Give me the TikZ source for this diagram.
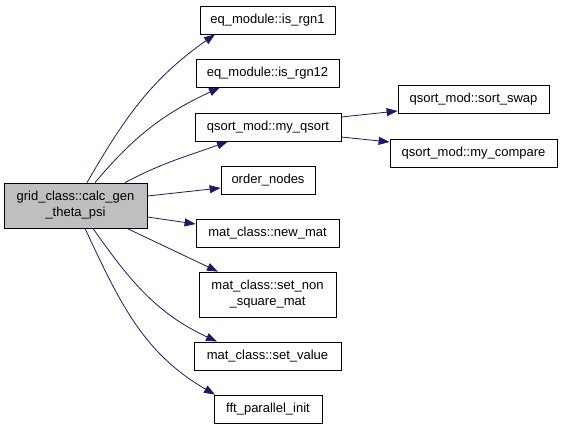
\documentclass[tikz,border=0pt]{standalone}
\usepackage{fontspec}
\setmainfont{Liberation Sans}
\usetikzlibrary{arrows.meta}
\definecolor{midnight}{HTML}{191970}
\begin{document}
\begin{tikzpicture}[x=1pt, y=-1pt,
            fn/.style={rectangle, draw=black, line width=0.8pt, minimum height=28pt, inner sep=0pt, align=center, font=\fontsize{13}{16}\selectfont},
            root/.style={fn, fill=black!25, minimum width=143pt, minimum height=45pt},
            call/.style={draw=midnight, line width=0.8pt, -{Triangle[length=11pt,width=8pt]}},
        ]
            \useasboundingbox (0,0) rectangle (563,429);
            \node(gridnode) at (75.5,205.5) [root] {grid\_class::calc\_gen\\\_theta\_psi};
            \node(rgnonenode) at (267.5,20) [fn, minimum width=135pt] {eq\_module::is\_rgn1};
            \node(rgntwelvenode) at (267.5,73) [fn, minimum width=143pt] {eq\_module::is\_rgn12};
            \node(qsortnode) at (268,127) [fn, minimum width=146pt] {qsort\_mod::my\_qsort};
            \node(ordernode) at (268,180) [fn, minimum width=94pt] {order\_nodes};
            \node(newmatnode) at (267.5,233) [fn, minimum width=143pt] {mat\_class::new\_mat};
            \node(nonsqnode) at (267.5,294.5) [fn, minimum width=137pt, minimum height=45pt] {mat\_class::set\_non\\\_square\_mat};
            \node(setvalnode) at (267.5,356) [fn, minimum width=147pt] {mat\_class::set\_value};
            \node(fftnode) at (268,409) [fn, minimum width=108pt] {fft\_parallel\_init};
            \node(swapnode) at (473.5,99) [fn, minimum width=151pt] {qsort\_mod::sort\_swap};
            \node(comparenode) at (473.5,153) [fn, minimum width=167pt] {qsort\_mod::my\_compare};
            \draw[call] ([xshift=11.5]gridnode.north) to[out=60, in=215] ([xshift=-52.5]rgnonenode.south);
            \draw[call] ([xshift=19.5]gridnode.north) to[out=50, in=205] ([xshift=-47.5]rgntwelvenode.south);
            \draw[call] ([xshift=49.5]gridnode.north) to[out=28, in=200] ([xshift=-40]qsortnode.south);
            \draw[call] ([yshift=9.5]gridnode.east) -- ([yshift=-8]ordernode.west);
            \draw[call] ([yshift=-11.5]gridnode.east) -- ([yshift=9]newmatnode.west);
            \draw[call] ([xshift=51.5]gridnode.south) -- ([xshift=-49.5]nonsqnode.north);
            \draw[call] ([xshift=17.5]gridnode.south) to[out=-55, in=155] ([xshift=-50.5]setvalnode.north);
            \draw[call] ([xshift=9.5]gridnode.south) to[out=-65, in=150] ([xshift=-53]fftnode.north);
            \draw[call] ([yshift=10]qsortnode.east) -- ([yshift=-12]swapnode.west);
            \draw[call] ([yshift=-10]qsortnode.east) -- ([yshift=11]comparenode.west);
        \end{tikzpicture}
\end{document}
